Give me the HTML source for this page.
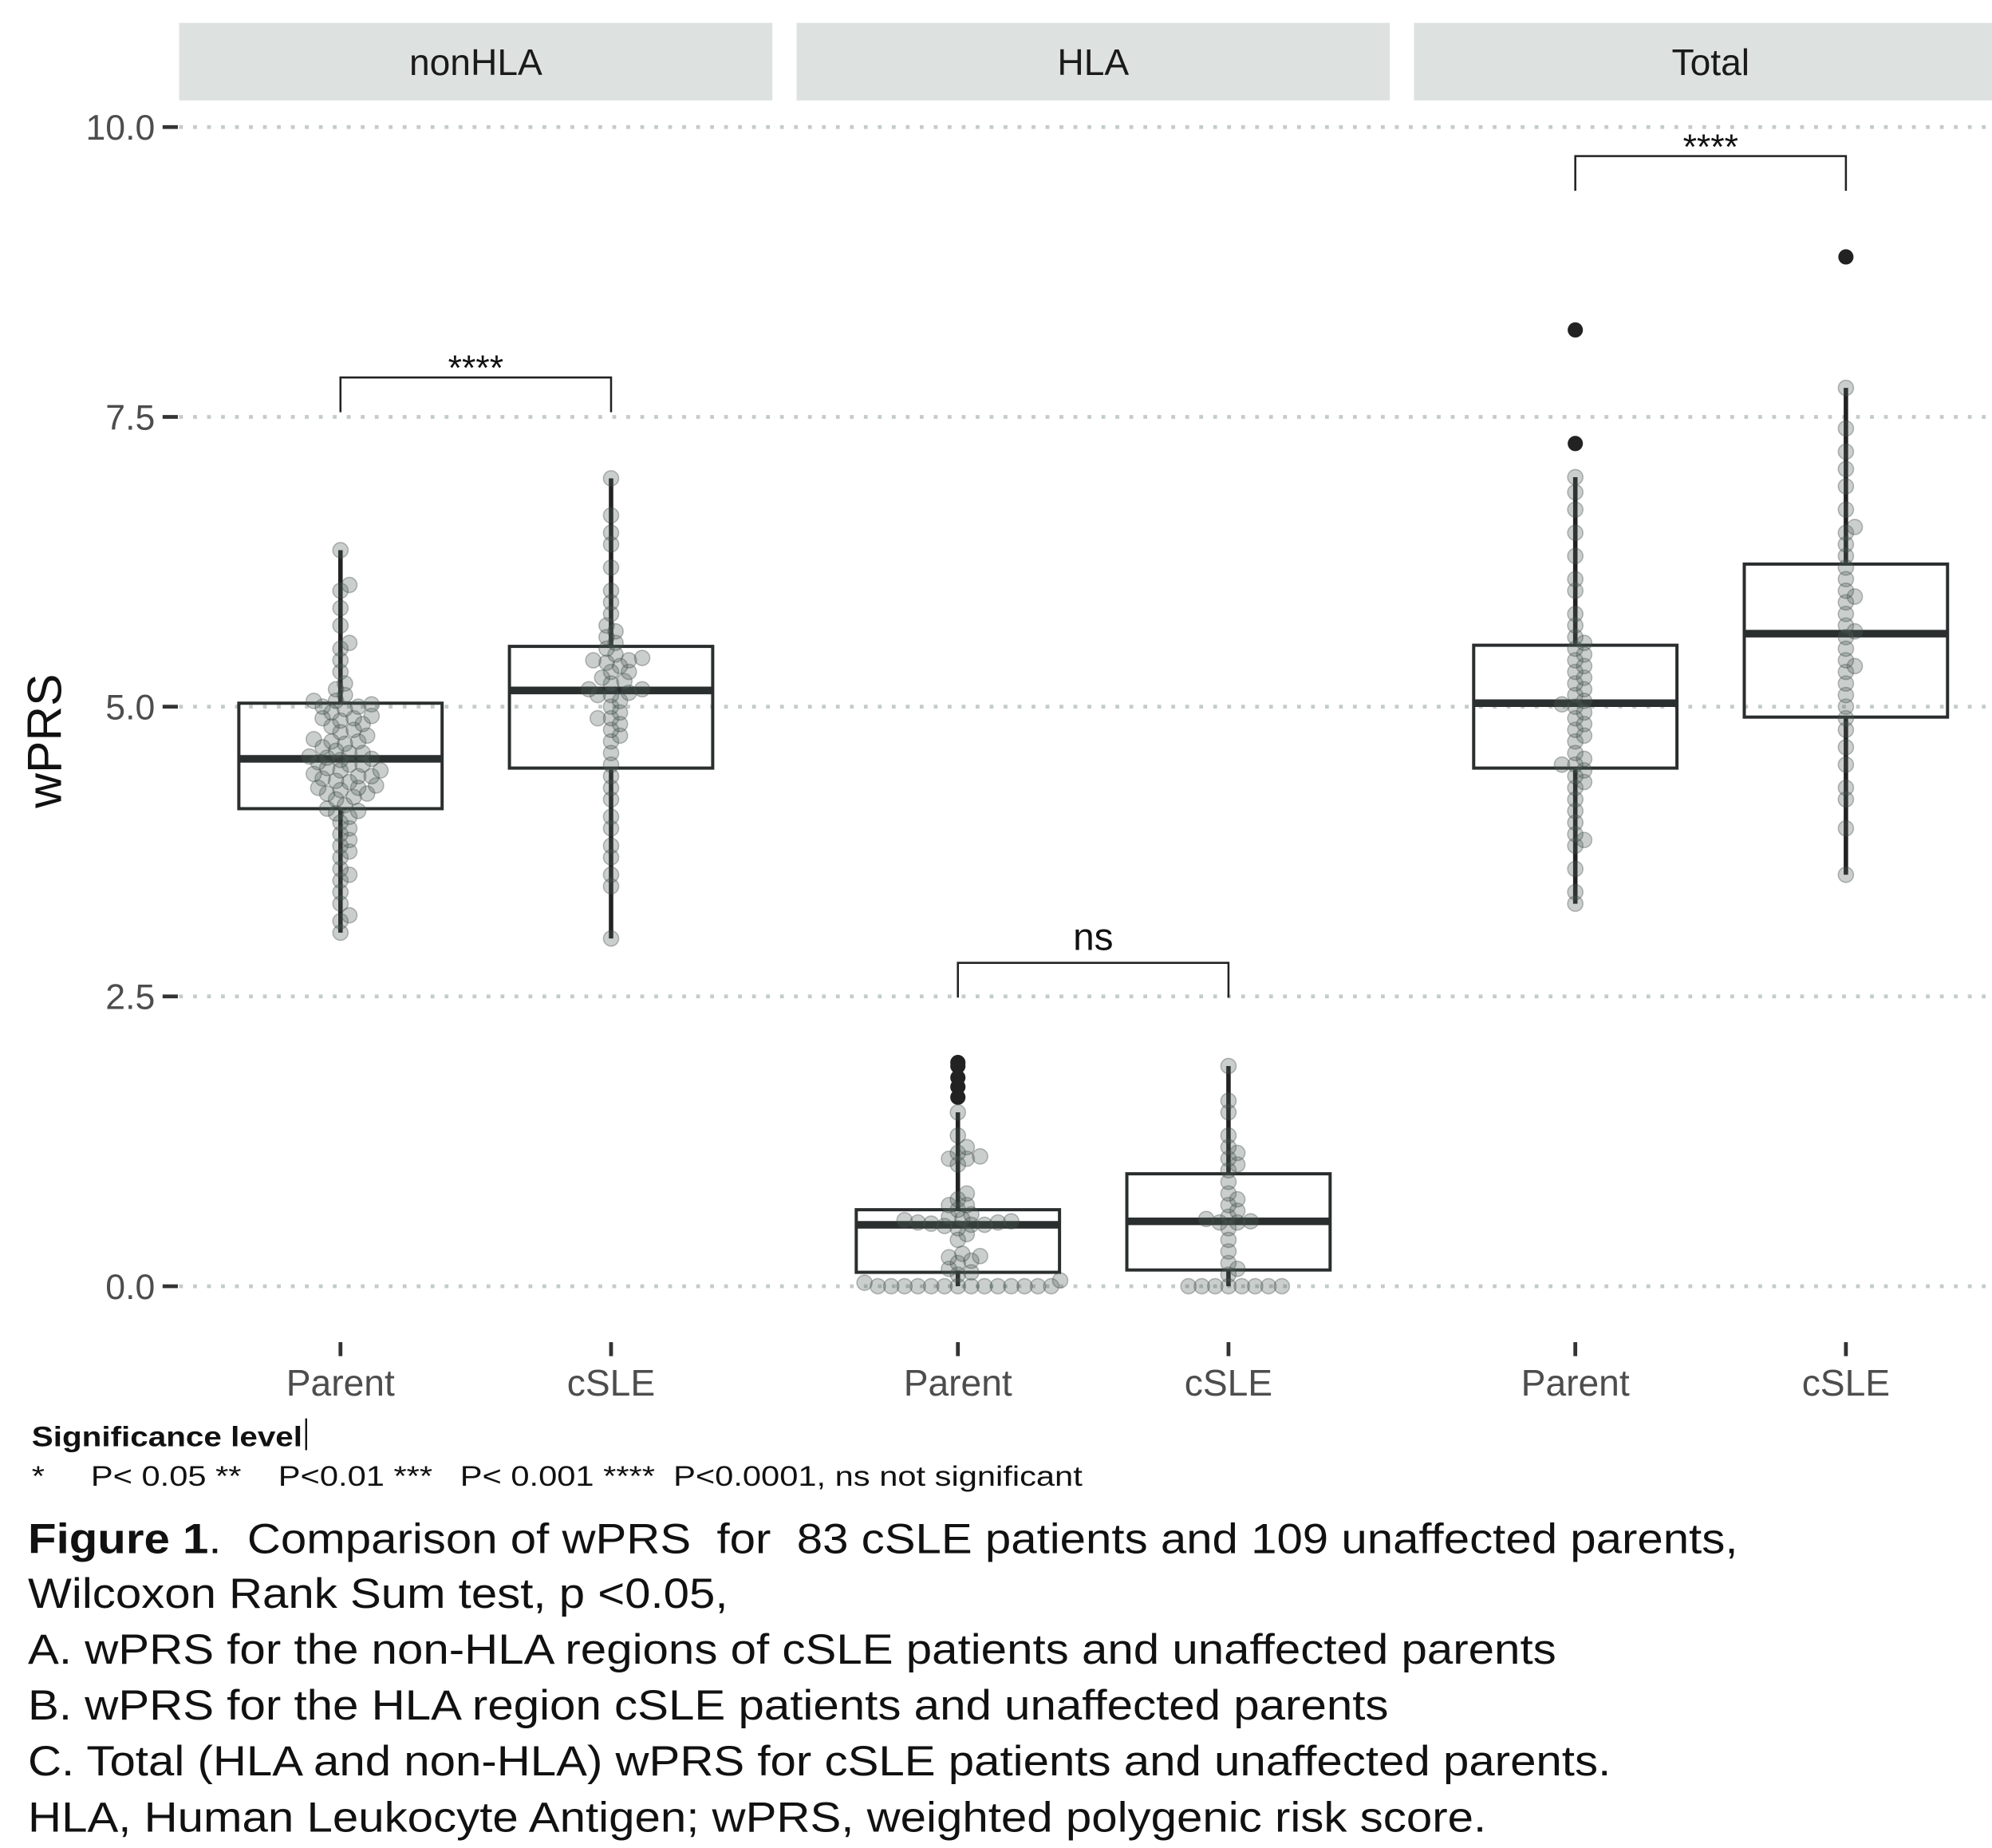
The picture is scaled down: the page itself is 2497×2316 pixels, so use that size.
<!DOCTYPE html>
<html><head><meta charset="utf-8"><style>
html,body{margin:0;padding:0;background:#fff;}
svg{display:block;font-family:"Liberation Sans",Arial,sans-serif;}
</style></head><body>
<svg id="chart" width="2497" height="2316" viewBox="0 0 1568 1454" preserveAspectRatio="none" xmlns="http://www.w3.org/2000/svg">
<g id="grid"></g>
<g id="strips"></g>
<g id="axes"></g>
<g id="marks"></g>
<g id="caption">
<text x="25" y="1138" font-size="22" font-weight="bold" fill="#111" textLength="213" lengthAdjust="spacingAndGlyphs">Significance level</text>
<line x1="241" y1="1116" x2="241" y2="1141" stroke="#111" stroke-width="1.5"/>
<text x="25" y="1169" font-size="22" fill="#111" textLength="827" lengthAdjust="spacingAndGlyphs" xml:space="preserve">*     P&lt; 0.05 **    P&lt;0.01 ***   P&lt; 0.001 ****  P&lt;0.0001, ns not significant</text>
<text x="22" y="1222" font-size="33" fill="#111" textLength="1346" lengthAdjust="spacingAndGlyphs" xml:space="preserve"><tspan font-weight="bold">Figure 1</tspan>.  Comparison of wPRS  for  83 cSLE patients and 109 unaffected parents,</text>
<text x="22" y="1265" font-size="33" fill="#111" textLength="551" lengthAdjust="spacingAndGlyphs">Wilcoxon Rank Sum test, p &lt;0.05,</text>
<text x="22" y="1309" font-size="33" fill="#111" textLength="1203" lengthAdjust="spacingAndGlyphs">A. wPRS for the non-HLA regions of cSLE patients and unaffected parents</text>
<text x="22" y="1353" font-size="33" fill="#111" textLength="1071" lengthAdjust="spacingAndGlyphs">B. wPRS for the HLA region cSLE patients and unaffected parents</text>
<text x="22" y="1397" font-size="33" fill="#111" textLength="1246" lengthAdjust="spacingAndGlyphs">C. Total (HLA and non-HLA) wPRS for cSLE patients and unaffected parents.</text>
<text x="22" y="1441" font-size="33" fill="#111" textLength="1148" lengthAdjust="spacingAndGlyphs">HLA, Human Leukocyte Antigen; wPRS, weighted polygenic risk score.</text>
</g>
</svg>
<script>
const panels = ["nonHLA","HLA","Total"];
const groups = ["Parent","cSLE"];
const yTicks = [0,2.5,5,7.5,10];
const yTickLabels = ["0.0","2.5","5.0","7.5","10.0"];
// box stats: order nonHLA-Parent, nonHLA-cSLE, HLA-Parent, HLA-cSLE, Total-Parent, Total-cSLE
const q1 = [4.12,4.47,0.12,0.14,4.47,4.91];
const med = [4.55,5.14,0.53,0.56,5.03,5.63];
const q3 = [5.03,5.52,0.66,0.97,5.53,6.23];
const whiskLo = [3.05,3.0,0,0,3.3,3.55];
const whiskHi = [6.35,6.97,1.5,1.9,6.98,7.75];
const outliers = [[],[],[1.63,1.72,1.8,1.9,1.93],[],[7.27,8.25],[8.88]];
const sigLabels = ["****","ns","****"];
const sigLevels = [7.84,2.79,9.75];
const pts0 = [3.05,3.15,3.2,3.3,3.4,3.5,3.55,3.6,3.7,3.75,3.8,3.85,3.9,3.95,4.0,4.05,4.08,4.1,4.12,4.15,4.2,4.22,4.25,4.28,4.3,4.32,4.35,4.38,4.4,4.42,4.45,4.47,4.5,4.52,4.54,4.55,4.57,4.6,4.62,4.65,4.68,4.7,4.72,4.75,4.78,4.8,4.83,4.85,4.88,4.9,4.92,4.95,4.98,5.0,5.02,5.05,5.1,5.15,5.2,5.3,5.4,5.5,5.55,5.7,5.85,6.0,6.05,6.35,4.36,4.5,4.56,4.6,4.4,4.25,4.7,4.9,5.0,5.05,4.45,4.3];
const pts1 = [3.0,3.45,3.55,3.7,3.8,3.95,4.05,4.2,4.3,4.4,4.5,4.6,4.7,4.75,4.85,4.9,4.95,5.0,5.05,5.1,5.12,5.15,5.2,5.22,5.25,5.3,5.35,5.38,5.4,5.42,5.45,5.5,5.55,5.6,5.65,5.7,5.8,5.9,6.0,6.2,6.4,6.5,6.65,6.97,5.15,5.3,5.4,4.8,4.9,5.1];
const pts2 = [0,0,0,0,0,0,0,0,0,0,0,0,0,0,0.03,0.05,0.1,0.12,0.15,0.2,0.22,0.25,0.26,0.28,0.4,0.45,0.5,0.52,0.53,0.53,0.54,0.55,0.55,0.56,0.57,0.58,0.6,0.62,0.66,0.7,0.7,0.75,0.8,1.05,1.1,1.1,1.12,1.15,1.2,1.3,1.5];
const pts3 = [0,0,0,0,0,0,0,0,0.1,0.15,0.2,0.3,0.4,0.5,0.55,0.55,0.56,0.58,0.6,0.65,0.7,0.75,0.8,0.9,1.0,1.05,1.1,1.15,1.2,1.3,1.5,1.6,1.9];
const pts4 = [3.3,3.4,3.6,3.8,3.85,3.9,4.0,4.1,4.2,4.3,4.35,4.4,4.45,4.5,4.5,4.55,4.6,4.7,4.75,4.8,4.85,4.9,4.95,5.0,5.02,5.05,5.1,5.15,5.2,5.25,5.3,5.35,5.4,5.45,5.5,5.55,5.6,5.7,5.8,6.0,6.1,6.3,6.5,6.7,6.85,6.98];
const pts5 = [3.55,3.95,4.2,4.3,4.5,4.65,4.8,4.9,5.0,5.1,5.2,5.3,5.35,5.4,5.5,5.6,5.65,5.7,5.8,5.9,5.95,6.0,6.1,6.2,6.3,6.4,6.5,6.55,6.7,6.9,7.05,7.2,7.4,7.75];
const allPts = [pts0,pts1,pts2,pts3,pts4,pts5];

const NS="http://www.w3.org/2000/svg";
const panelX0 = 141, panelW = 467, panelGap = 19;
function y(v){ return 1012 - v*91.2; }
function px(p){ return panelX0 + p*(panelW+panelGap); }
function gx(p,g){ return px(p) + 127 + g*213; }
function mk(tag, attrs, parent){ const e=document.createElementNS(NS,tag); for(const k in attrs) e.setAttribute(k,attrs[k]); parent.appendChild(e); return e; }

const grid=document.getElementById('grid'), strips=document.getElementById('strips'), axes=document.getElementById('axes'), marks=document.getElementById('marks');

yTicks.forEach((t,i)=>{
  const gl = mk('line',{x1:141,x2:1568,y1:y(t),y2:y(t),stroke:'#c4ccca','stroke-width':3,'stroke-dasharray':'3 8'},grid);
  
  
  const tk = mk('line',{x1:128,x2:140,y1:y(t),y2:y(t),stroke:'#333','stroke-width':3},axes);
  
  
  const tl = mk('text',{x:122,y:y(t)+10,'text-anchor':'end','font-size':28,fill:'#4d4d4d'},axes);
  tl.textContent = yTickLabels[i];
  
  
});
const yt = mk('text',{x:0,y:0,'font-size':38,fill:'#111','text-anchor':'middle',transform:'translate(48,583) rotate(-90)'},axes);
yt.textContent='wPRS';



panels.forEach((p,i)=>{
  const r = mk('rect',{x:px(i),y:18,width:panelW,height:61,fill:'#dde2e1'},strips);
  
  
  const t = mk('text',{x:px(i)+panelW/2,y:59,'text-anchor':'middle','font-size':29,fill:'#1a1a1a'},strips);
  t.textContent=p;
  
  
  groups.forEach((g,j)=>{
    const x=gx(i,j);
    const tk=mk('line',{x1:x,x2:x,y1:1056,y2:1067,stroke:'#333','stroke-width':3},axes);
    
    
    const tl=mk('text',{x:x,y:1098,'text-anchor':'middle','font-size':29,fill:'#4d4d4d'},axes);
    tl.textContent=g;
    
    
  });
  const x1=gx(i,0), x2=gx(i,1), yb=y(sigLevels[i]);
  const br=mk('path',{d:`M${x1},${y(sigLevels[i]-0.3)} V${yb} H${x2} V${y(sigLevels[i]-0.3)}`,fill:'none',stroke:'#222','stroke-width':1.6},marks);
  
  
  const st=mk('text',{x:(x1+x2)/2,y:sigLabels[i]==='ns'?yb-10:yb+2,'text-anchor':'middle','font-size':sigLabels[i]==='ns'?30:28,fill:'#111'},marks);
  st.textContent=sigLabels[i];
  
  
});

for(let k=0;k<6;k++){
  const pi=Math.floor(k/2), gi=k%2, cx=gx(pi,gi), hw=80;
  const name=panels[pi].toLowerCase()+'-'+groups[gi].toLowerCase();
  const g=mk('g',{},marks);
  
  
  mk('line',{x1:cx,x2:cx,y1:y(whiskHi[k]),y2:y(q3[k]),stroke:'#222','stroke-width':3.5},g);
  mk('line',{x1:cx,x2:cx,y1:y(q1[k]),y2:y(whiskLo[k]),stroke:'#222','stroke-width':3.5},g);
  mk('rect',{x:cx-hw,y:y(q3[k]),width:2*hw,height:y(q1[k])-y(q3[k]),fill:'none',stroke:'#2a2e2e','stroke-width':2.5},g);
  mk('line',{x1:cx-hw,x2:cx+hw,y1:y(med[k]),y2:y(med[k]),stroke:'#2a2e2e','stroke-width':6},g);
  outliers[k].forEach(v=>{
    const c=mk('circle',{cx:cx,cy:y(v),r:6,fill:'#222'},g);
    
    
  });
  const vals=allPts[k].slice().sort((a,b)=>a-b);
  const placed=[], r=6, d=2*r*0.65;
  const pg=mk('g',{},marks);
  
  
  vals.forEach(v=>{
    const cy=y(v); let off=0;
    for(let s=0;s<60;s++){
      const cand = s===0?0:(s%2? 1:-1)*Math.ceil(s/2)*3.5;
      if(placed.every(p=>Math.hypot(p[0]-cand,p[1]-cy)>=d)){off=cand;break;}
    }
    placed.push([off,cy]);
    const c=mk('circle',{cx:cx+off,cy:cy,r:r,fill:'rgba(80,95,90,0.3)',stroke:'rgba(60,70,68,0.35)','stroke-width':1},pg);
    
    
  });
}
</script>
</body></html>
